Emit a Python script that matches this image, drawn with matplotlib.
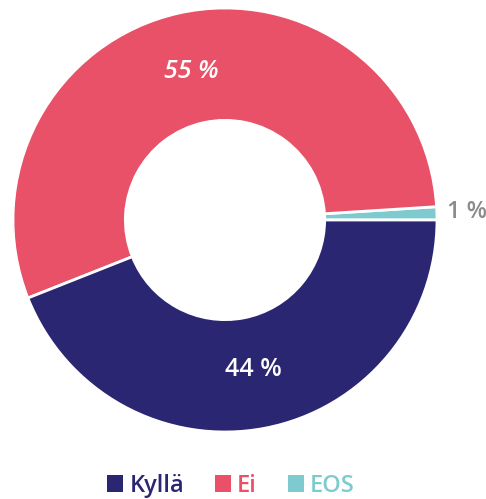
import numpy as np
import matplotlib
matplotlib.use("Agg")
import matplotlib.pyplot as plt
from matplotlib.patches import Patch

categories = ["EOS", "Ei", "Kyllä"]
values = [1, 55, 44]
colors = ["#7ecbcf", "#e85167", "#2b2672"]
legend_order = ["Kyllä", "Ei", "EOS"]

plt.rcParams['font.family'] = ['Open Sans', 'DejaVu Sans']

fig = plt.figure(figsize=(4.86, 4.99), dpi=100)
ax = fig.add_axes([13/486, (499-432)/499, 424/486, 424/499])

wedges, texts, autotexts = ax.pie(
    values, colors=colors, startangle=0, counterclock=True,
    radius=1.0, wedgeprops=dict(width=0.53, edgecolor="white", linewidth=2),
    autopct=lambda p: f"{p:.0f} %", pctdistance=0.72,
)
ax.set_xlim(-1, 1)
ax.set_ylim(-1, 1)
ax.set_aspect("equal")
ax.axis("off")

for w, t, cat in zip(wedges, autotexts, categories):
    t.set_fontsize(18)
    t.set_fontweight("semibold")
    if cat == "EOS":
        ang = np.deg2rad((w.theta1 + w.theta2) / 2)
        t.set_position((1.14 * np.cos(ang), 1.14 * np.sin(ang)))
        t.set_color("#8c8c8c")
        t.set_fontsize(17)
    else:
        t.set_color("white")
    if cat == "Ei":
        t.set_style("italic")

handles = [Patch(facecolor=colors[categories.index(c)], edgecolor="none") for c in legend_order]
leg = fig.legend(handles, legend_order, loc="lower center", bbox_to_anchor=(0.475, -0.04),
                 ncol=3, frameon=False, handlelength=0.7, handleheight=0.7,
                 handletextpad=0.25, columnspacing=1.3,
                 prop=dict(size=17, weight="semibold"))
for txt, c in zip(leg.get_texts(), legend_order):
    txt.set_color(colors[categories.index(c)])

fig.savefig("out.png", dpi=100)
